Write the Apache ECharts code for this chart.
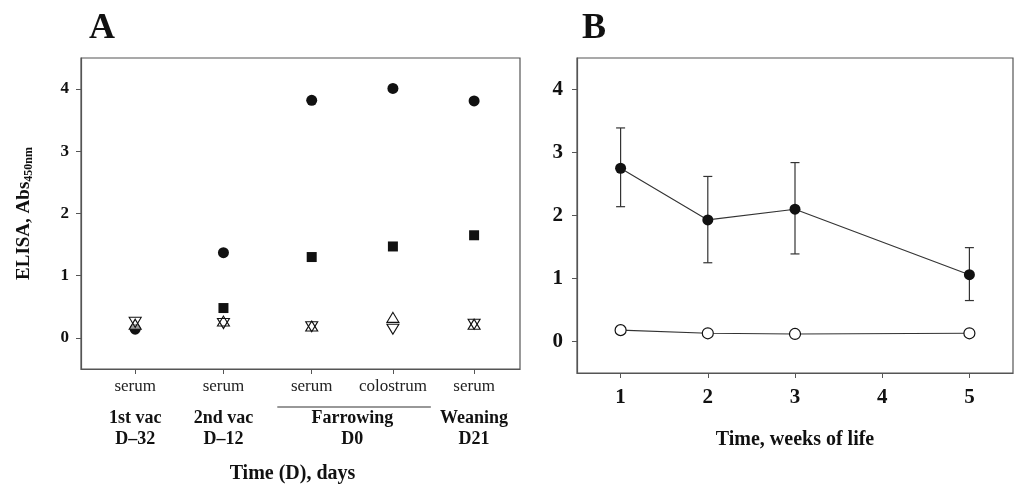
<!DOCTYPE html>
<html>
<head>
<meta charset="utf-8">
<script src="https://cdn.jsdelivr.net/npm/echarts@6/dist/echarts.min.js"></script>
<style>
  html, body { margin: 0; background: #fff; }
  #chart { width: 1016px; height: 489px; }
</style>
</head>
<body>
<div id="chart"></div>
<script>
// ---- panel A data ----
const samplePos = [1, 2, 3, 3.92, 4.84];
const sampleType = ['serum', 'serum', 'serum', 'colostrum', 'serum'];
const eventPos = [1, 2, 3.46, 4.84];
const eventLabels = ['1st vac\nD\u201332', '2nd vac\nD\u201312', 'Farrowing\nD0', 'Weaning\nD21'];
const farrowingSpan = [2.61, 4.35];
const circleA = [0.14, 1.37, 3.82, 4.01, 3.81];
const squareA = [null, 0.48, 1.30, 1.47, 1.65];
const triUpA = [0.22, 0.27, 0.19, 0.33, 0.22];
const triDownA = [0.25, 0.23, 0.18, 0.14, 0.22];
const yTicks = [0, 1, 2, 3, 4];

// ---- panel B data ----
const weeks = [1, 2, 3, 5];
const weekTicks = [1, 2, 3, 4, 5];
const filledMean = [2.75, 1.93, 2.10, 1.06];
const filledUpper = [3.39, 2.62, 2.84, 1.49];
const filledLower = [2.14, 1.25, 1.39, 0.65];
const openMean = [0.18, 0.13, 0.12, 0.13];
const openUpper = [0.18, 0.13, 0.12, 0.16];
const openLower = [0.18, 0.13, 0.12, 0.10];

const serif = "'Liberation Serif', 'DejaVu Serif', serif";
const ink = '#111';
const axisGrey = '#555';

const pair = (xs, ys) => xs.map((x, i) => [x, ys[i]]);
const errData = (xs, lo, hi) => xs.map((x, i) => [x, lo[i], hi[i]]);

const chart = echarts.init(document.getElementById('chart'));

const errorBars = {
  type: 'custom',
  xAxisIndex: 2,
  yAxisIndex: 1,
  z: 1,
  renderItem: (params, api) => {
    const x = api.value(0);
    const lo = api.coord([x, api.value(1)]);
    const hi = api.coord([x, api.value(2)]);
    const cap = 4.5;
    const style = { stroke: '#333', lineWidth: 1.2 };
    return {
      type: 'group',
      children: [
        { type: 'line', shape: { x1: lo[0], y1: lo[1], x2: hi[0], y2: hi[1] }, style },
        { type: 'line', shape: { x1: hi[0] - cap, y1: hi[1], x2: hi[0] + cap, y2: hi[1] }, style },
        { type: 'line', shape: { x1: lo[0] - cap, y1: lo[1], x2: lo[0] + cap, y2: lo[1] }, style }
      ]
    };
  }
};

const yAxisCommon = {
  type: 'value',
  min: -0.5,
  max: 4.5,
  axisLine: { show: true, onZero: false, lineStyle: { color: axisGrey, width: 1.2 } },
  axisTick: { show: true, customValues: yTicks, length: 5, lineStyle: { color: axisGrey } },
  splitLine: { show: false }
};

const option = {
  animation: false,
  backgroundColor: '#fff',
  title: [
    { text: 'A', left: 84, top: 6, textStyle: { fontFamily: serif, fontWeight: 'bold', fontSize: 36, color: ink } },
    { text: 'B', left: 577, top: 6, textStyle: { fontFamily: serif, fontWeight: 'bold', fontSize: 36, color: ink } }
  ],
  grid: [
    { left: 81, top: 58, width: 439, height: 315, show: true, borderColor: axisGrey, borderWidth: 1.2 },
    { left: 577, top: 58, width: 436, height: 315, show: true, borderColor: axisGrey, borderWidth: 1.2 }
  ],
  xAxis: [
    {
      gridIndex: 0,
      type: 'value',
      min: 0.386,
      max: 5.36,
      axisLine: { show: true, onZero: false, lineStyle: { color: axisGrey, width: 1.2 } },
      axisTick: { show: true, customValues: samplePos, length: 5, lineStyle: { color: axisGrey } },
      axisLabel: {
        customValues: samplePos,
        margin: 9,
        fontFamily: serif,
        fontSize: 17,
        color: '#222',
        formatter: v => sampleType[samplePos.indexOf(v)] || ''
      },
      splitLine: { show: false },
      name: 'Time (D), days',
      nameLocation: 'middle',
      nameGap: 95,
      nameTextStyle: { fontFamily: serif, fontWeight: 'bold', fontSize: 20, color: ink, padding: [0, 16, 0, 0] }
    },
    {
      gridIndex: 0,
      type: 'value',
      position: 'bottom',
      offset: 30,
      min: 0.386,
      max: 5.36,
      axisLine: { show: false, onZero: false },
      axisTick: { show: false },
      splitLine: { show: false },
      axisLabel: {
        customValues: eventPos,
        margin: 9,
        fontFamily: serif,
        fontWeight: 'bold',
        fontSize: 18,
        lineHeight: 21,
        color: ink,
        formatter: v => eventLabels[eventPos.indexOf(v)] || ''
      }
    },
    {
      gridIndex: 1,
      type: 'value',
      min: 0.5,
      max: 5.5,
      axisLine: { show: true, onZero: false, lineStyle: { color: axisGrey, width: 1.2 } },
      axisTick: { show: true, customValues: weekTicks, length: 5, lineStyle: { color: axisGrey } },
      axisLabel: { customValues: weekTicks, margin: 14, fontFamily: serif, fontWeight: 'bold', fontSize: 21, color: ink },
      splitLine: { show: false },
      name: 'Time, weeks of life',
      nameLocation: 'middle',
      nameGap: 57,
      nameTextStyle: { fontFamily: serif, fontWeight: 'bold', fontSize: 20, color: ink }
    }
  ],
  yAxis: [
    Object.assign({}, yAxisCommon, {
      gridIndex: 0,
      axisLabel: { customValues: yTicks, margin: 12, fontFamily: serif, fontWeight: 'bold', fontSize: 17, color: ink },
      name: '{m|ELISA, Abs}{s|450nm}',
      nameLocation: 'middle',
      nameRotate: 90,
      nameGap: 46,
      nameTextStyle: {
        rich: {
          m: { fontFamily: serif, fontWeight: 'bold', fontSize: 19, color: ink },
          s: { fontFamily: serif, fontWeight: 'bold', fontSize: 12, color: ink, padding: [10, 0, 0, 0] }
        }
      }
    }),
    Object.assign({}, yAxisCommon, {
      gridIndex: 1,
      axisLabel: { customValues: yTicks, margin: 14, fontFamily: serif, fontWeight: 'bold', fontSize: 21, color: ink }
    })
  ],
  series: [
    {
      type: 'scatter', xAxisIndex: 0, yAxisIndex: 0, symbol: 'circle', symbolSize: 11,
      itemStyle: { color: ink, opacity: 1 }, data: pair(samplePos, circleA)
    },
    {
      type: 'scatter', xAxisIndex: 0, yAxisIndex: 0, symbol: 'rect', symbolSize: 10,
      itemStyle: { color: ink, opacity: 1 }, data: pair(samplePos, squareA).filter(d => d[1] != null)
    },
    {
      type: 'scatter', xAxisIndex: 0, yAxisIndex: 0, symbol: 'triangle', symbolSize: [12, 10],
      itemStyle: { color: 'rgba(255,255,255,0.6)', borderColor: ink, borderWidth: 1.1, opacity: 1 }, data: pair(samplePos, triUpA)
    },
    {
      type: 'scatter', xAxisIndex: 0, yAxisIndex: 0, symbol: 'triangle', symbolRotate: 180, symbolSize: [12, 10],
      itemStyle: { color: 'rgba(255,255,255,0)', borderColor: ink, borderWidth: 1.1, opacity: 1 }, data: pair(samplePos, triDownA)
    },
    Object.assign({}, errorBars, { data: errData(weeks, filledLower, filledUpper) }),
    Object.assign({}, errorBars, { data: errData(weeks, openLower, openUpper) }),
    {
      type: 'line', xAxisIndex: 2, yAxisIndex: 1, symbol: 'circle', symbolSize: 11, z: 3,
      lineStyle: { color: '#333', width: 1.1 }, itemStyle: { color: ink },
      data: pair(weeks, filledMean)
    },
    {
      type: 'line', xAxisIndex: 2, yAxisIndex: 1, symbol: 'circle', symbolSize: 11, z: 3,
      lineStyle: { color: '#333', width: 1.1 }, itemStyle: { color: '#fff', borderColor: ink, borderWidth: 1.2 },
      data: pair(weeks, openMean)
    }
  ]
};

chart.setOption(option);

// line under serum / colostrum spanning the farrowing samples
const x1 = chart.convertToPixel({ xAxisIndex: 0 }, farrowingSpan[0]);
const x2 = chart.convertToPixel({ xAxisIndex: 0 }, farrowingSpan[1]);
chart.setOption({
  graphic: [{
    type: 'line',
    shape: { x1: x1, y1: 407, x2: x2, y2: 407 },
    style: { stroke: '#333', lineWidth: 1.2 }
  }]
});
</script>
</body>
</html>
